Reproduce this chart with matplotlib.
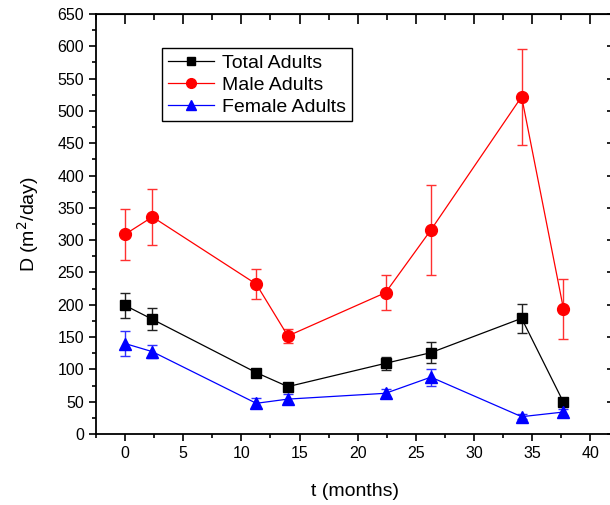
import matplotlib
matplotlib.use("Agg")
import matplotlib.pyplot as plt
from matplotlib.ticker import MultipleLocator
from matplotlib.lines import Line2D

plt.rcParams['font.family'] = ['Liberation Sans', 'DejaVu Sans']

t = [0, 2.35, 11.28, 14.0, 22.4, 26.3, 34.1, 37.7]

total = [199, 177.5, 95, 73.3, 109.4, 125.9, 179, 49]
total_err = [19.5, 17, 5, 4, 10, 16, 22.5, 4]

male = [309, 336, 232, 151.7, 218.8, 315.8, 522, 193.5]
male_err = [39, 43.5, 23, 11, 27, 69.5, 74.5, 47]

female = [140, 127.4, 47.5, 54, 63, 88, 26.8, 34]
female_err = [20, 10, 8, 8, 6, 13, 4, 4]

labels = ["Total Adults", "Male Adults", "Female Adults"]
colors = ['black', '#ff0000', '#0000ff']
ecolors = ['#222222', '#ff3030', '#3030ff']
markers = ['s', 'o', '^']
msizes = [7, 8.5, 8.5]

fig = plt.figure(figsize=(6.10, 5.05), dpi=100)
ax = fig.add_axes([96/610, 71/505, 517.5/610, 420/505])

ekw = dict(elinewidth=1.0, capsize=3.5, capthick=1.0, linewidth=0.9)
handles = []
for ys, es, c, ec, m, ms, lab in zip([total, male, female], [total_err, male_err, female_err],
                                      colors, ecolors, markers, msizes, labels):
    ax.errorbar(t, ys, yerr=es, color=c, ecolor=ec, marker=m, markersize=ms, **ekw)
    handles.append(Line2D([], [], color=c, marker=m, markersize=ms - 1.5, linewidth=0.9, label=lab))

ax.set_xlim(-2.5, 42)
ax.set_ylim(0, 650)
ax.xaxis.set_major_locator(MultipleLocator(5))
ax.xaxis.set_minor_locator(MultipleLocator(2.5))
ax.yaxis.set_major_locator(MultipleLocator(50))
ax.yaxis.set_minor_locator(MultipleLocator(25))
ax.tick_params(which='major', direction='out', length=5, width=1.2, labelsize=11.5)
ax.tick_params(which='minor', direction='out', length=3, width=1.2)
for s in ax.spines.values():
    s.set_linewidth(1.3)

top = ax.secondary_xaxis('top')
top.xaxis.set_major_locator(MultipleLocator(5))
top.xaxis.set_minor_locator(MultipleLocator(2.5))
top.tick_params(which='major', direction='in', length=7, width=1.2, labeltop=False)
top.tick_params(which='minor', direction='in', length=4, width=1.2)
right = ax.secondary_yaxis('right')
right.yaxis.set_major_locator(MultipleLocator(50))
right.yaxis.set_minor_locator(MultipleLocator(25))
right.tick_params(which='major', direction='in', length=5, width=1.2, labelright=False)
right.tick_params(which='minor', direction='in', length=3, width=1.2)

ax.set_xlabel("t (months)", fontsize=14, labelpad=16)
ax.set_ylabel("D (m$^2$/day)", fontsize=14, labelpad=12)

leg = ax.legend(handles=handles, loc='upper left', bbox_to_anchor=(0.127, 0.918), borderaxespad=0,
                fontsize=14, fancybox=False, edgecolor='black', framealpha=1,
                handlelength=2.4, labelspacing=0.22, borderpad=0.3, handletextpad=0.4)
leg.get_frame().set_linewidth(1.0)

fig.savefig("out.png", dpi=100)
